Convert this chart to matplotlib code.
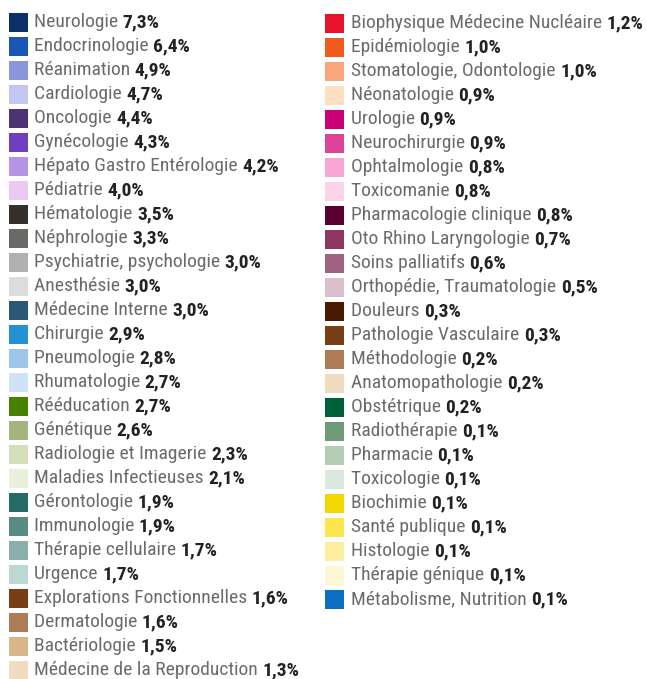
import matplotlib
matplotlib.use("Agg")
import matplotlib.pyplot as plt
from matplotlib import font_manager as fm
from matplotlib.patches import Rectangle

left_labels = ["Neurologie", "Endocrinologie", "Réanimation", "Cardiologie", "Oncologie",
               "Gynécologie", "Hépato Gastro Entérologie", "Pédiatrie", "Hématologie",
               "Néphrologie", "Psychiatrie, psychologie", "Anesthésie", "Médecine Interne",
               "Chirurgie", "Pneumologie", "Rhumatologie", "Rééducation", "Génétique",
               "Radiologie et Imagerie", "Maladies Infectieuses", "Gérontologie",
               "Immunologie", "Thérapie cellulaire", "Urgence", "Explorations Fonctionnelles",
               "Dermatologie", "Bactériologie", "Médecine de la Reproduction"]
left_values = [7.3, 6.4, 4.9, 4.7, 4.4, 4.3, 4.2, 4.0, 3.5, 3.3, 3.0, 3.0, 3.0, 2.9, 2.8,
               2.7, 2.7, 2.6, 2.3, 2.1, 1.9, 1.9, 1.7, 1.7, 1.6, 1.6, 1.5, 1.3]
left_colors = ["#0a2f6b", "#1a56b5", "#8a96dc", "#c3c6f0", "#4b3472", "#6e3fbf", "#b694e4",
               "#ecc8f2", "#35302c", "#6a6966", "#b2b1b1", "#dcdcdc", "#2c5878", "#2491d3",
               "#9cc6ea", "#cfe3f7", "#468200", "#a3b57c", "#d2dfb9", "#e9f1dd", "#256b66",
               "#5a8a84", "#8aafaa", "#bdd7d3", "#7a3e17", "#ad7b55", "#d9b58a", "#f0dcc0"]

right_labels = ["Biophysique Médecine Nucléaire", "Epidémiologie", "Stomatologie, Odontologie",
                "Néonatologie", "Urologie", "Neurochirurgie", "Ophtalmologie", "Toxicomanie",
                "Pharmacologie clinique", "Oto Rhino Laryngologie", "Soins palliatifs",
                "Orthopédie, Traumatologie", "Douleurs", "Pathologie Vasculaire",
                "Méthodologie", "Anatomopathologie", "Obstétrique", "Radiothérapie",
                "Pharmacie", "Toxicologie", "Biochimie", "Santé publique", "Histologie",
                "Thérapie génique", "Métabolisme, Nutrition"]
right_values = [1.2, 1.0, 1.0, 0.9, 0.9, 0.9, 0.8, 0.8, 0.8, 0.7, 0.6, 0.5, 0.3, 0.3,
                0.2, 0.2, 0.2, 0.1, 0.1, 0.1, 0.1, 0.1, 0.1, 0.1, 0.1]
right_colors = ["#e8132b", "#f05a1c", "#fca47a", "#fde0c0", "#cc0077", "#dd4499", "#f9a6d6",
                "#fcd2e8", "#5a0030", "#8e3562", "#a06282", "#dbbfcc", "#4a1a00", "#7a3e17",
                "#ad7b55", "#f0dcc0", "#00603a", "#6f9a78", "#b3cdb5", "#dae9df", "#f2d800",
                "#fde54f", "#fdee9f", "#fef7d5", "#0a6fc2"]

available = {f.name for f in fm.fontManager.ttflist}
family = "DejaVu Sans"
for cand in ["Roboto Condensed", "Liberation Sans Narrow", "Roboto", "Liberation Sans"]:
    if cand in available:
        family = cand
        break

W, H = 647, 679
fig = plt.figure(figsize=(W / 100, H / 100), dpi=100)
ax = fig.add_axes([0, 0, 1, 1])
ax.set_xlim(0, W)
ax.set_ylim(H, 0)
ax.axis("off")

fs = 14.0
pitch = 24.0
y0 = 22.0
sq = 19

fig.canvas.draw()
renderer = fig.canvas.get_renderer()


def draw_column(labels, values, colors, xsq, xtext, ystart):
    for i, (lab, val, col) in enumerate(zip(labels, values, colors)):
        yc = ystart + i * pitch
        ax.add_patch(Rectangle((xsq, yc - sq / 2), sq, sq, facecolor=col, edgecolor="none"))
        t = ax.text(xtext, yc, lab + " ", fontsize=fs, family=family, color="#6b6b6b",
                    va="center", ha="left")
        bb = t.get_window_extent(renderer=renderer)
        x_end = ax.transData.inverted().transform((bb.x1, bb.y0))[0]
        ax.text(x_end, yc, f"{val:.1f}%".replace(".", ","), fontsize=fs, family=family,
                color="#222222", fontweight="bold", va="center", ha="left")


draw_column(left_labels, left_values, left_colors, 9, 34, y0)
draw_column(right_labels, right_values, right_colors, 325, 351, y0 + 1)

fig.savefig("out.png", dpi=100)
